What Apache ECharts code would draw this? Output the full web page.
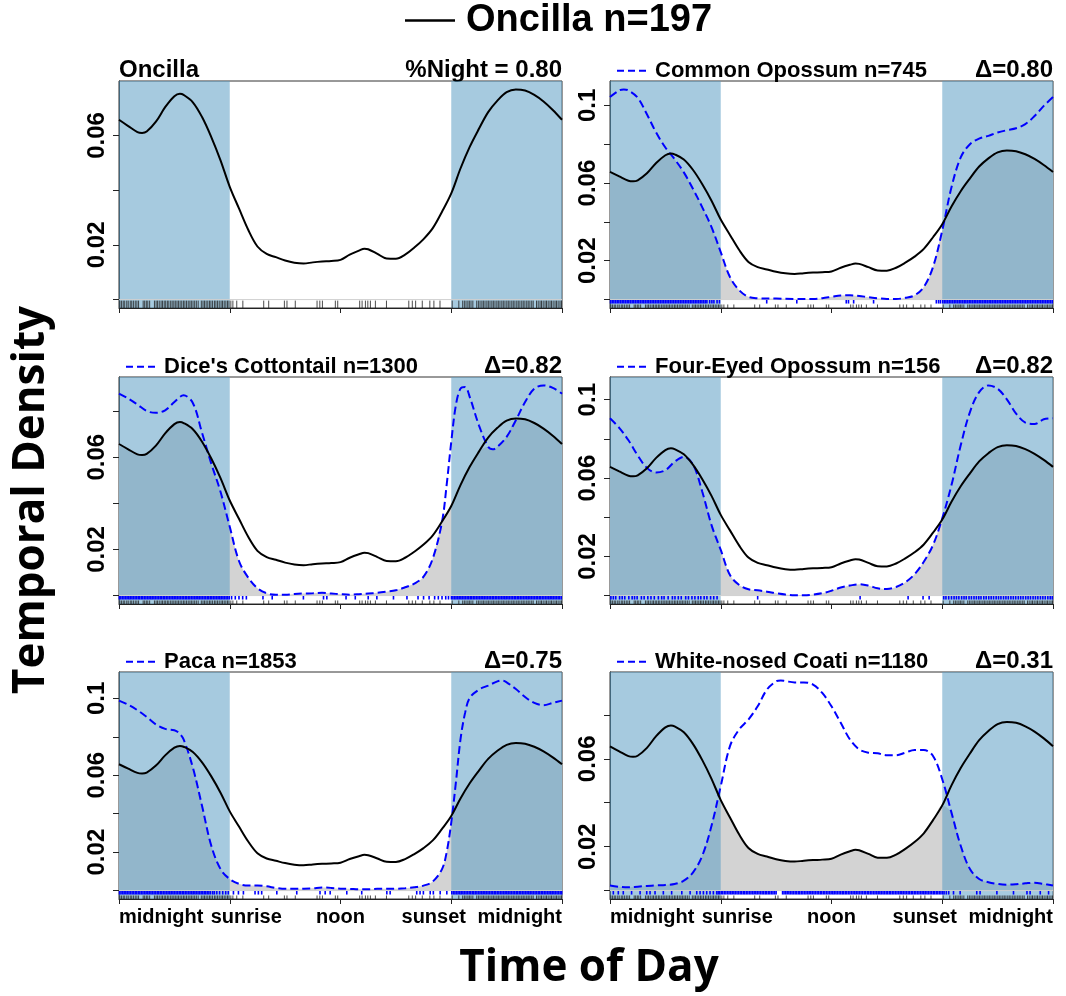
<!DOCTYPE html>
<html><head><meta charset="utf-8">
<script src="https://cdn.jsdelivr.net/npm/echarts@6/dist/echarts.min.js"></script>
<style>html,body{margin:0;padding:0;background:#fff}#c{width:1066px;height:996px}</style>
</head><body><div id="c"></div>
<script>
// ---------------- DATA ----------------
const xTickHours = [0, 6, 12, 18, 24];
const xTickLabels = ['midnight', 'sunrise', 'noon', 'sunset', 'midnight'];
const yTickValues = [0, 0.02, 0.04, 0.06, 0.08, 0.1];
const yLabelValues = [0.02, 0.06, 0.1];
const nightSpans = [[0, 6], [18, 24]];

const oncillaHours = [0,0.5,1,1.25,1.5,2,2.5,3,3.3,3.5,4,4.5,5,5.5,6,6.5,7,7.5,8,8.5,9,9.5,10,10.5,11,11.5,12,12.5,13,13.3,13.5,14,14.5,15,15.5,16,16.5,17,17.5,18,18.5,19,19.5,20,20.5,21,21.5,22,22.5,23,23.5,24];
const oncillaDensity = [0.0657,0.0634,0.0612,0.0609,0.0614,0.0650,0.0703,0.0743,0.0752,0.0748,0.0721,0.0667,0.0594,0.0509,0.0412,0.0333,0.0255,0.0194,0.0167,0.0155,0.0143,0.0135,0.0132,0.0136,0.0139,0.0141,0.0145,0.0164,0.0179,0.0186,0.0184,0.0167,0.0150,0.0149,0.0164,0.0190,0.0221,0.0261,0.0321,0.0388,0.0479,0.0558,0.0624,0.0685,0.0727,0.0758,0.0768,0.0764,0.0748,0.0724,0.0693,0.0657];

const opossumHours = [0,0.5,0.75,1,1.5,2,2.5,3,3.5,4,4.5,5,5.5,6,6.5,7,7.5,8,9,10,11,11.5,12,12.5,13,13.5,14,14.5,15,15.5,16,16.5,17,17.5,18,18.5,19,19.5,20,20.5,21,21.5,22,22.5,23,23.5,24];
const opossumDensity = [0.1043,0.1077,0.1082,0.1077,0.1039,0.0954,0.0860,0.0783,0.0723,0.0655,0.0569,0.0475,0.0373,0.0244,0.0116,0.0048,0.0014,0.0007,0.0005,0.0003,0.0003,0.0007,0.0014,0.0021,0.0022,0.0019,0.0012,0.0007,0.0003,0.0003,0.0009,0.0022,0.0065,0.0168,0.0356,0.0578,0.0732,0.0800,0.0829,0.0843,0.0860,0.0872,0.0882,0.0903,0.0945,0.0997,0.1043];

const cottontailHours = [0,0.5,1,1.5,2,2.5,3,3.5,4,4.5,5,5.5,6,6.5,7,7.5,8,8.5,9,9.5,10,10.5,11,11.5,12,12.5,13,13.5,14,14.5,15,15.5,16,16.5,17,17.5,17.75,18,18.25,18.5,18.75,19,19.5,20,20.25,20.5,21,21.5,22,22.5,23,23.5,24];
const cottontailDensity = [0.0875,0.0854,0.0828,0.0800,0.0792,0.0803,0.0839,0.0868,0.0835,0.0705,0.0572,0.0450,0.0298,0.0150,0.0078,0.0032,0.0010,0.0004,0.0004,0.0007,0.0009,0.0010,0.0012,0.0009,0.0006,0.0004,0.0006,0.0009,0.0012,0.0017,0.0023,0.0036,0.0052,0.0082,0.0161,0.0320,0.0479,0.0666,0.0825,0.0897,0.0904,0.0861,0.0738,0.0645,0.0634,0.0645,0.0688,0.0760,0.0839,0.0897,0.0911,0.0900,0.0875];

const fourEyedHours = [0,0.5,1,1.5,2,2.5,3,3.5,4,4.5,5,5.5,6,6.5,7,7.5,8,8.5,9,9.5,10,10.5,11,11.5,12,12.5,13,13.5,14,14.5,15,15.5,16,16.5,17,17.5,18,18.5,19,19.5,20,20.5,21,21.5,22,22.5,23,23.5,24];
const fourEyedDensity = [0.0905,0.0856,0.0793,0.0716,0.0652,0.0628,0.0640,0.0683,0.0708,0.0669,0.0530,0.0360,0.0233,0.0105,0.0054,0.0032,0.0027,0.0020,0.0012,0.0005,0.0002,0.0002,0.0005,0.0012,0.0025,0.0041,0.0051,0.0058,0.0051,0.0037,0.0034,0.0044,0.0068,0.0109,0.0173,0.0258,0.0394,0.0564,0.0767,0.0937,0.1039,0.1073,0.1056,0.1002,0.0929,0.0883,0.0876,0.0900,0.0905];

const pacaHours = [0,0.5,1,1.5,2,2.5,3,3.25,3.5,4,4.5,5,5.5,6,6.5,7,7.5,8,8.5,9,9.5,10,10.5,11,11.5,12,12.5,13,13.5,14,14.5,15,15.5,16,16.5,17,17.5,17.75,18,18.25,18.5,18.75,19,19.5,20,20.5,20.75,21,21.5,22,22.5,23,23.5,24];
const pacaDensity = [0.0988,0.0967,0.0938,0.0903,0.0864,0.0841,0.0834,0.0820,0.0786,0.0640,0.0440,0.0233,0.0112,0.0060,0.0035,0.0026,0.0026,0.0022,0.0014,0.0009,0.0009,0.0010,0.0012,0.0016,0.0014,0.0010,0.0009,0.0007,0.0007,0.0009,0.0010,0.0010,0.0012,0.0017,0.0026,0.0047,0.0112,0.0199,0.0354,0.0561,0.0786,0.0924,0.1002,0.1045,0.1066,0.1088,0.1093,0.1083,0.1048,0.1007,0.0976,0.0964,0.0976,0.0988];

const coatiHours = [0,0.5,1,1.5,2,2.5,3,3.5,4,4.5,5,5.5,6,6.5,7,7.5,8,8.5,9,9.25,9.5,10,10.5,11,11.5,12,12.5,13,13.5,14,14.5,15,15.5,16,16.5,17,17.5,18,18.5,19,19.5,20,20.5,21,21.5,22,22.5,23,23.5,24];
const coatiDensity = [0.0023,0.0017,0.0015,0.0018,0.0021,0.0024,0.0026,0.0030,0.0045,0.0083,0.0159,0.0295,0.0476,0.0658,0.0734,0.0779,0.0839,0.0915,0.0953,0.0957,0.0954,0.0948,0.0948,0.0938,0.0900,0.0839,0.0764,0.0688,0.0643,0.0628,0.0625,0.0616,0.0616,0.0628,0.0640,0.0640,0.0613,0.0507,0.0355,0.0204,0.0098,0.0053,0.0038,0.0030,0.0027,0.0029,0.0033,0.0036,0.0030,0.0023];

// rug (observation times, hours)
const oncillaRug = [0.05,0.14,0.23,0.31,0.42,0.50,0.61,0.69,0.78,0.88,0.97,1.06,1.31,1.39,1.48,1.56,1.66,1.92,2.01,2.09,2.18,2.28,2.36,2.45,2.53,2.62,2.70,2.80,2.88,2.97,3.05,3.14,3.22,3.31,3.40,3.49,3.57,3.66,3.75,3.84,3.92,4.01,4.10,4.19,4.29,4.46,4.55,4.63,4.72,4.81,4.90,4.98,5.07,5.17,5.25,5.34,5.43,5.53,5.61,5.70,5.79,5.88,5.96,
6.06,6.17,6.38,6.71,7.84,8.11,8.96,9.10,9.55,10.73,10.88,11.02,11.72,11.85,13.04,13.17,13.35,13.48,13.62,13.89,14.49,15.70,15.89,16.07,16.43,16.84,17.06,17.39,
18.05,18.41,18.62,18.71,18.80,18.90,18.98,19.07,19.17,19.38,19.47,19.56,19.66,19.74,19.83,19.93,20.01,20.10,20.20,20.28,20.37,20.47,20.55,20.64,20.74,20.82,20.91,21.01,21.09,21.18,21.28,21.36,21.45,21.55,21.63,21.72,21.82,21.90,21.99,22.09,22.17,22.26,22.36,22.44,22.62,22.71,22.81,22.89,22.98,23.08,23.16,23.25,23.35,23.43,23.52,23.62,23.70,23.79,23.89,23.97];

const opossumRug = [0.03,0.12,0.21,0.30,0.39,0.48,0.57,0.66,0.75,0.84,0.93,1.02,1.11,1.20,1.29,1.38,1.47,1.56,1.65,1.74,1.83,1.92,2.01,2.10,2.19,2.28,2.37,2.46,2.55,2.64,2.73,2.82,2.91,3.00,3.09,3.18,3.27,3.36,3.45,3.54,3.63,3.72,3.81,3.90,3.99,4.08,4.17,4.26,4.35,4.44,4.53,4.62,4.71,4.80,4.89,4.98,5.07,5.16,5.25,5.40,5.52,5.63,5.80,5.93,
8.49,10.12,12.80,12.92,13.20,14.28,17.68,17.80,17.90,
18.02,18.11,18.20,18.29,18.38,18.47,18.56,18.65,18.74,18.83,18.92,19.01,19.10,19.19,19.28,19.37,19.46,19.55,19.64,19.73,19.82,19.91,20.00,20.09,20.18,20.27,20.36,20.45,20.54,20.63,20.72,20.81,20.90,20.99,21.08,21.17,21.26,21.35,21.44,21.53,21.62,21.71,21.80,21.89,21.98,22.07,22.16,22.25,22.34,22.43,22.52,22.61,22.70,22.79,22.88,22.97,23.06,23.15,23.24,23.33,23.42,23.51,23.60,23.69,23.78,23.87,23.96];

const cottontailRug = [0.02,0.10,0.19,0.27,0.36,0.44,0.53,0.61,0.70,0.78,0.87,0.95,1.04,1.12,1.21,1.29,1.38,1.46,1.55,1.63,1.72,1.80,1.89,1.97,2.06,2.14,2.23,2.31,2.40,2.48,2.57,2.65,2.74,2.82,2.91,2.99,3.08,3.16,3.25,3.33,3.42,3.50,3.59,3.67,3.76,3.84,3.93,4.01,4.10,4.18,4.27,4.35,4.44,4.52,4.61,4.69,4.78,4.86,4.95,5.03,5.12,5.20,5.29,5.37,5.46,5.54,5.63,5.71,5.80,5.88,5.97,
6.10,6.30,6.50,6.70,6.90,7.80,8.30,9.99,11.08,11.26,12.30,12.80,13.50,13.97,14.87,15.60,16.20,16.50,16.80,17.10,17.30,17.50,17.70,17.85,
18.01,18.09,18.18,18.26,18.35,18.43,18.52,18.60,18.69,18.77,18.86,18.94,19.03,19.11,19.20,19.28,19.37,19.45,19.54,19.62,19.71,19.79,19.88,19.96,20.05,20.13,20.22,20.30,20.39,20.47,20.56,20.64,20.73,20.81,20.90,20.98,21.07,21.15,21.24,21.32,21.41,21.49,21.58,21.66,21.75,21.83,21.92,22.00,22.09,22.17,22.26,22.34,22.43,22.51,22.60,22.68,22.77,22.85,22.94,23.02,23.11,23.19,23.28,23.36,23.45,23.53,23.62,23.70,23.79,23.87,23.96];

const fourEyedRug = [0.05,0.18,0.31,0.52,0.66,0.80,1.02,1.20,1.33,1.47,1.70,1.85,2.05,2.22,2.40,2.62,2.80,2.93,3.15,3.38,3.52,3.70,3.86,4.10,4.25,4.44,4.60,4.78,4.92,5.10,5.25,5.45,5.62,5.80,
8.00,13.55,16.15,16.96,17.29,
18.08,18.20,18.35,18.50,18.64,18.77,18.90,19.05,19.18,19.30,19.45,19.58,19.72,19.85,19.98,20.10,20.25,20.38,20.52,20.65,20.78,20.92,21.05,21.18,21.32,21.45,21.58,21.72,21.85,21.98,22.12,22.25,22.38,22.52,22.65,22.78,22.92,23.05,23.18,23.32,23.45,23.58,23.72,23.85,23.96];

const pacaRug = [0.03,0.11,0.20,0.28,0.37,0.45,0.54,0.62,0.71,0.79,0.88,0.96,1.05,1.13,1.22,1.30,1.39,1.47,1.56,1.64,1.73,1.81,1.90,1.98,2.07,2.15,2.24,2.32,2.41,2.49,2.58,2.66,2.75,2.83,2.92,3.00,3.09,3.17,3.26,3.34,3.43,3.51,3.60,3.68,3.77,3.85,3.94,4.02,4.11,4.19,4.28,4.36,4.45,4.53,4.62,4.70,4.79,4.87,4.96,5.08,5.17,5.30,5.45,5.62,5.78,5.92,
6.20,6.47,6.74,7.37,7.55,7.73,8.55,9.63,10.89,11.17,11.44,12.34,13.15,14.51,14.69,16.13,16.31,16.49,16.86,17.03,17.40,17.76,18.03,
18.12,18.20,18.29,18.37,18.46,18.54,18.63,18.71,18.80,18.88,18.97,19.05,19.14,19.22,19.31,19.39,19.48,19.56,19.65,19.73,19.82,19.90,19.99,20.07,20.16,20.24,20.33,20.41,20.50,20.58,20.67,20.75,20.84,20.92,21.01,21.09,21.18,21.26,21.35,21.43,21.52,21.60,21.69,21.77,21.86,21.94,22.03,22.11,22.20,22.28,22.37,22.45,22.54,22.62,22.71,22.79,22.88,22.96,23.05,23.13,23.22,23.30,23.39,23.47,23.56,23.64,23.73,23.81,23.90,23.98];

const coatiRug = [0.18,0.45,0.72,1.17,1.63,1.99,2.17,2.44,2.89,3.34,3.89,4.34,4.70,4.88,5.06,5.24,5.42,5.60,5.78,
5.86,5.94,6.03,6.11,6.20,6.28,6.37,6.45,6.54,6.62,6.71,6.79,6.88,6.96,7.05,7.13,7.22,7.30,7.39,7.47,7.56,7.64,7.73,7.81,7.90,7.98,8.07,8.15,8.24,8.32,8.41,8.49,8.58,8.66,8.75,8.83,8.92,9.00,9.35,9.43,9.52,9.60,9.69,9.77,9.86,9.94,10.03,10.11,10.20,10.28,10.37,10.45,10.54,10.62,10.71,10.79,10.88,10.96,11.05,11.13,11.22,11.30,11.39,11.47,11.56,11.64,11.73,11.81,11.90,11.98,12.07,12.15,12.24,12.32,12.41,12.49,12.58,12.66,12.75,12.83,12.92,13.00,13.09,13.17,13.26,13.34,13.43,13.51,13.60,13.68,13.77,13.85,13.94,14.02,14.11,14.19,14.28,14.36,14.45,14.53,14.62,14.70,14.79,14.87,14.96,15.04,15.13,15.21,15.30,15.38,15.47,15.55,15.64,15.72,15.81,15.89,15.98,16.06,16.15,16.23,16.32,16.40,16.49,16.57,16.66,16.74,16.83,16.91,17.00,17.08,17.17,17.25,17.34,17.42,17.51,17.59,17.68,17.76,17.85,17.93,18.02,18.10,18.22,18.35,
18.61,18.97,19.87,20.05,20.96,21.86,22.59,22.76,23.31,23.76];

const panelNames = ['Oncilla', 'Common Opossum n=745', "Dice's Cottontail n=1300", 'Four-Eyed Opossum n=156', 'Paca n=1853', 'White-nosed Coati n=1180'];
const panelStats = ['%Night = 0.80', 'Δ=0.80', 'Δ=0.82', 'Δ=0.82', 'Δ=0.75', 'Δ=0.31'];
const mainLegend = 'Oncilla n=197';
const xTitle = 'Time of Day';
const yTitle = 'Temporal Density';

// ---------------- LAYOUT / STYLE ----------------
const FONT = '"Liberation Sans", Arial, Helvetica, sans-serif';
const TFONT = '"Open Sans", "Liberation Sans", sans-serif';
const PW = 443, PH = 227;
const panelPos = [[119, 81], [610, 81], [119, 377], [610, 377], [119, 672], [610, 672]];
const NIGHT = 'rgba(92,158,196,0.55)';
const BLUE = '#0000ff';

const speciesSets = [null,
  [opossumHours, opossumDensity, opossumRug],
  [cottontailHours, cottontailDensity, cottontailRug],
  [fourEyedHours, fourEyedDensity, fourEyedRug],
  [pacaHours, pacaDensity, pacaRug],
  [coatiHours, coatiDensity, coatiRug]];

function interp(xs, ys, x) {
  for (let k = 0; k < xs.length - 1; k++) {
    if (x >= xs[k] && x <= xs[k + 1]) {
      const t = (x - xs[k]) / (xs[k + 1] - xs[k]);
      return ys[k] + t * (ys[k + 1] - ys[k]);
    }
  }
  return ys[ys.length - 1];
}
const zip = (xs, ys) => xs.map((x, k) => [x, ys[k]]);

const grids = [], xAxes = [], yAxes = [], series = [], graphics = [];

panelNames.forEach((name, i) => {
  const [L, T] = panelPos[i];
  const sp = speciesSets[i];
  const all = oncillaDensity.concat(sp ? sp[1] : []);
  const M = Math.max(...all);
  const yMax = 1.04 * M, yMin = -0.04 * M;
  const bottomRow = i >= 4;

  grids.push({ left: L, top: T, width: PW, height: PH, show: true, borderColor: '#333', borderWidth: 1, backgroundColor: 'transparent' });
  xAxes.push({
    type: 'value', gridIndex: i, min: 0, max: 24, interval: 6,
    axisLine: { show: true, onZero: false, lineStyle: { color: '#222', width: 1 } },
    axisTick: { show: true, length: 5, lineStyle: { color: '#222' } },
    splitLine: { show: false },
    axisLabel: {
      show: bottomRow, margin: 8, color: '#000', fontSize: 20, fontWeight: 'bold', fontFamily: FONT,
      showMinLabel: true, showMaxLabel: true, alignMinLabel: 'left', alignMaxLabel: 'right',
      formatter: v => {
        const k = xTickHours.indexOf(v);
        const lab = k >= 0 ? xTickLabels[k] : '';
        if (k === 1) return '{r|' + lab + '}';
        if (k === 3) return '{s|' + lab + '}';
        return lab;
      },
      rich: {
        r: { padding: [0, 0, 0, 33], fontSize: 20, fontWeight: 'bold', fontFamily: FONT, color: '#000' },
        s: { padding: [0, 35, 0, 0], fontSize: 20, fontWeight: 'bold', fontFamily: FONT, color: '#000' }
      }
    }
  });
  yAxes.push({
    type: 'value', gridIndex: i, min: yMin, max: yMax,
    axisLine: { show: true, onZero: false, lineStyle: { color: '#222', width: 1 } },
    axisTick: { show: true, length: 6, lineStyle: { color: '#222' }, customValues: yTickValues.filter(v => v <= yMax) },
    splitLine: { show: false },
    axisLabel: {
      customValues: yLabelValues.filter(v => v <= yMax),
      rotate: 90, margin: 10, color: '#000', fontSize: 24, fontWeight: 'bold', fontFamily: FONT,
      formatter: v => String(+v.toFixed(2))
    }
  });

  // overlap area
  if (sp) {
    const xs = Array.from(new Set(oncillaHours.concat(sp[0]))).sort((a, b) => a - b);
    const ov = xs.map(x => [x, Math.min(interp(oncillaHours, oncillaDensity, x), interp(sp[0], sp[1], x))]);
    series.push({
      type: 'line', xAxisIndex: i, yAxisIndex: i, data: ov, symbol: 'none', smooth: 0.35,
      lineStyle: { width: 0 }, areaStyle: { color: '#d3d3d3', opacity: 1, origin: 0 }, z: 2, silent: true
    });
  }
  // night shading
  series.push({
    type: 'custom', xAxisIndex: i, yAxisIndex: i, data: nightSpans, encode: { x: [0, 1] }, z: 3, silent: true,
    renderItem: (params, api) => {
      const a = api.coord([api.value(0), yMax]);
      const b = api.coord([api.value(1), yMin]);
      return { type: 'rect', shape: { x: a[0], y: a[1], width: b[0] - a[0], height: b[1] - a[1] }, style: { fill: NIGHT } };
    }
  });
  // zero line
  series.push({
    type: 'line', xAxisIndex: i, yAxisIndex: i, data: [[0, 0], [24, 0]], symbol: 'none',
    lineStyle: { color: '#d0d0d0', width: 1 }, z: 4, silent: true
  });
  // rugs
  const rug = (times, f0, f1, color, w) => ({
    type: 'custom', xAxisIndex: i, yAxisIndex: i, data: times.map(t => [t, 0]), encode: { x: 0, y: 1 }, z: 5, silent: true,
    renderItem: (params, api) => {
      const p0 = api.coord([api.value(0), 0]);
      const p1 = api.coord([api.value(0), yMin]);
      const d = p1[1] - p0[1];
      return { type: 'line', shape: { x1: p0[0], y1: p0[1] + f0 * d, x2: p0[0], y2: p0[1] + f1 * d }, style: { stroke: color, lineWidth: w } };
    }
  });
  if (sp) {
    series.push(rug(sp[2], 0.05, 0.47, '#0000ff', 1.6));
    series.push(rug(oncillaRug, 0.58, 1.0, 'rgba(30,30,30,0.8)', 1));
  } else {
    series.push(rug(oncillaRug, 0.12, 1.0, 'rgba(30,30,30,0.8)', 1));
  }
  // curves
  if (sp) {
    series.push({
      type: 'line', xAxisIndex: i, yAxisIndex: i, data: zip(sp[0], sp[1]), symbol: 'none', smooth: 0.35,
      lineStyle: { color: BLUE, width: 2, type: [8, 4] }, z: 6, silent: true
    });
  }
  series.push({
    type: 'line', xAxisIndex: i, yAxisIndex: i, data: zip(oncillaHours, oncillaDensity), symbol: 'none', smooth: 0.35,
    lineStyle: { color: '#000', width: 2 }, z: 7, silent: true
  });

  // panel header texts
  if (i === 0) {
    graphics.push({ type: 'text', x: L, y: T - 10.8, style: { text: name, fontSize: 24, fontWeight: 'bold', fontFamily: FONT, fill: '#000', align: 'left', verticalAlign: 'middle' } });
  } else {
    graphics.push({ type: 'line', shape: { x1: L + 7, y1: T - 10.3, x2: L + 36, y2: T - 10.3 }, style: { stroke: BLUE, lineWidth: 2, lineDash: [7, 4] } });
    graphics.push({ type: 'text', x: L + 45, y: T - 10.1, style: { text: name, fontSize: 22, fontWeight: 'bold', fontFamily: FONT, fill: '#000', align: 'left', verticalAlign: 'middle' } });
  }
  graphics.push({ type: 'text', x: L + PW, y: T - 10.8, style: { text: panelStats[i], fontSize: 24, fontWeight: 'bold', fontFamily: FONT, fill: '#000', align: 'right', verticalAlign: 'middle' } });
});

// global titles
graphics.push({ type: 'line', shape: { x1: 405, y1: 20.5, x2: 455, y2: 20.5 }, style: { stroke: '#000', lineWidth: 2.5 } });
graphics.push({ type: 'text', x: 466, y: 21, style: { text: mainLegend, fontSize: 38, fontWeight: 'bold', fontFamily: FONT, fill: '#000', align: 'left', verticalAlign: 'middle' } });
graphics.push({ type: 'text', x: 589, y: 968, style: { text: xTitle, fontSize: 44, fontWeight: 'bold', fontFamily: TFONT, fill: '#000', align: 'center', verticalAlign: 'middle' } });
graphics.push({ type: 'text', x: 31, y: 500, rotation: Math.PI / 2, style: { text: yTitle, fontSize: 44, fontWeight: 'bold', fontFamily: TFONT, fill: '#000', align: 'center', verticalAlign: 'middle' } });

const chart = echarts.init(document.getElementById('c'), null, { renderer: 'canvas' });
chart.setOption({
  animation: false,
  backgroundColor: '#fff',
  textStyle: { fontFamily: FONT },
  grid: grids, xAxis: xAxes, yAxis: yAxes, series: series,
  graphic: graphics
});
</script>
</body></html>
